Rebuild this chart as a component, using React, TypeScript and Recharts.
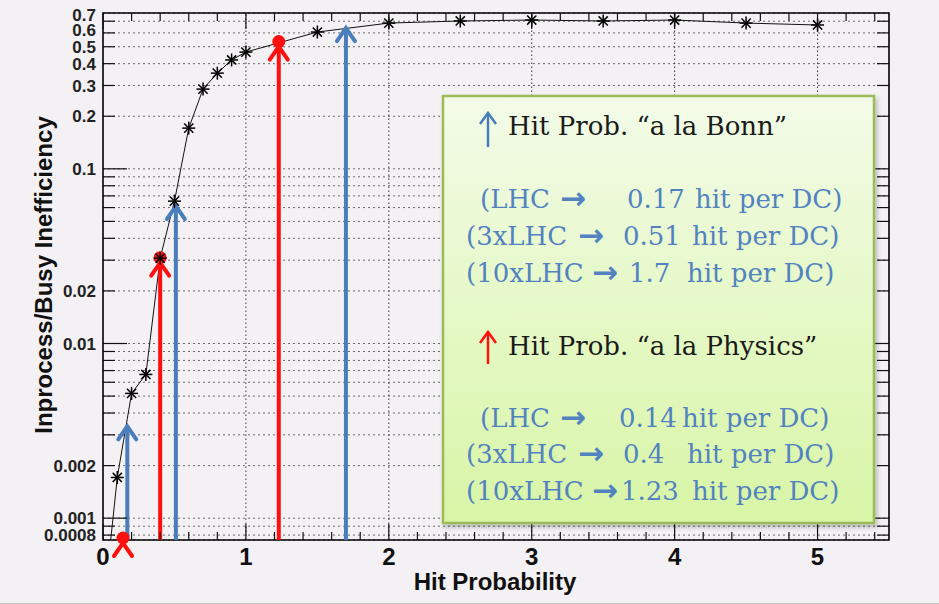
import React from "react";
import { LineChart, Line, XAxis, YAxis, CartesianGrid, ReferenceLine, ReferenceArea } from "recharts";

// measured curve (inefficiency vs hit probability per DC)
const hitProbability = [0.05, 0.1, 0.2, 0.3, 0.4, 0.5, 0.6, 0.7, 0.8, 0.9, 1.0, 1.5, 2.0, 2.5, 3.0, 3.5, 4.0, 4.5, 5.0];
const inefficiency = [0.0007, 0.00171, 0.00518, 0.00665, 0.0308, 0.0653, 0.171, 0.286, 0.353, 0.42, 0.466, 0.607, 0.683, 0.702, 0.711, 0.702, 0.711, 0.683, 0.666];

// arrows: "a la Bonn" (blue) and "a la Physics" (red)
const machines = ["LHC", "3xLHC", "10xLHC"];
const bonnProb = [0.17, 0.51, 1.7];
const bonnTip = [0.0034, 0.062, 0.648];
const physicsProb = [0.14, 0.4, 1.23];
const physicsTip = [0.00077, 0.031, 0.535];

const xTicks = [0, 0.2, 0.4, 0.6, 0.8, 1, 1.2, 1.4, 1.6, 1.8, 2, 2.2, 2.4, 2.6, 2.8, 3, 3.2, 3.4, 3.6, 3.8, 4, 4.2, 4.4, 4.6, 4.8, 5, 5.2, 5.4];
const yTicks = [
  0.0008, 0.0009, 0.001, 0.002, 0.003, 0.004, 0.005, 0.006, 0.007, 0.008, 0.009,
  0.01, 0.02, 0.03, 0.04, 0.05, 0.06, 0.07, 0.08, 0.09,
  0.1, 0.2, 0.3, 0.4, 0.5, 0.6, 0.7,
];
const yLabels = [0.0008, 0.001, 0.002, 0.01, 0.02, 0.1, 0.2, 0.3, 0.4, 0.5, 0.6, 0.7];
const yDecades = [0.001, 0.01, 0.1];
const X_DOMAIN: [number, number] = [0, 5.5];
const Y_DOMAIN: [number, number] = [0.00075, 0.78];

const W = 939;
const H = 604;
const PLOT_LEFT = 103;
const PLOT_RIGHT = 889;
const PLOT_TOP = 13;
const PLOT_BOTTOM = 540;

const BG = "#f4f1f4";
const BLUE = "#4a7ebb";
const RED = "#ff1010";
const TEXT_BLUE = "#5283c0";
const SANS = "'Liberation Sans', Arial, sans-serif";
const SERIF = "'DejaVu Serif', serif";

const data = hitProbability.map((x, i) => ({ x, y: inefficiency[i] }));

// the crowded top labels sit a little higher than their ticks, as in ROOT
const labelShift = (v: number) => (v === 0.7 ? -6 : v === 0.6 ? -3 : 0);

const YTick = (props: any) => {
  const { y, payload } = props;
  const v = payload.value;
  const len = yDecades.includes(v) ? 24 : 12;
  return (
    <g>
      <line x1={PLOT_LEFT} x2={PLOT_LEFT + len} y1={y} y2={y} stroke="#111" strokeWidth={1.2} />
      <line x1={PLOT_RIGHT} x2={PLOT_RIGHT - len} y1={y} y2={y} stroke="#111" strokeWidth={1.2} />
      {yLabels.includes(v) && (
        <text x={PLOT_LEFT - 7} y={y + labelShift(v)} dy="0.36em" textAnchor="end" fontFamily={SANS} fontWeight={700} fontSize={17} fill="#222">
          {String(v)}
        </text>
      )}
    </g>
  );
};

const XTick = (props: any) => {
  const { x, payload } = props;
  const v = payload.value;
  const major = Number.isInteger(v);
  const len = major ? 16 : 8;
  return (
    <g>
      <line x1={x} x2={x} y1={PLOT_BOTTOM} y2={PLOT_BOTTOM - len} stroke="#111" strokeWidth={1.2} />
      <line x1={x} x2={x} y1={PLOT_TOP} y2={PLOT_TOP + len} stroke="#111" strokeWidth={1.2} />
      {major && (
        <text x={x} y={565} textAnchor="middle" fontFamily={SANS} fontWeight={700} fontSize={24} fill="#111">
          {String(v)}
        </text>
      )}
    </g>
  );
};

const StarDot = (props: any) => {
  const { cx, cy, index } = props;
  if (index === 0 || cx == null || cy == null) return <g key={`s${index}`} />;
  const r = 6.5;
  const d = 4.6;
  return (
    <g key={`s${index}`} stroke="#000" strokeWidth={1.5}>
      <line x1={cx - r} x2={cx + r} y1={cy} y2={cy} />
      <line x1={cx} x2={cx} y1={cy - r} y2={cy + r} />
      <line x1={cx - d} x2={cx + d} y1={cy - d} y2={cy + d} />
      <line x1={cx - d} x2={cx + d} y1={cy + d} y2={cy - d} />
    </g>
  );
};

const blueArrow = (props: any) => {
  const { x1, y1, x2, y2 } = props;
  return (
    <g stroke={BLUE} strokeWidth={4} fill="none">
      <line x1={x1} y1={y1} x2={x2} y2={y2 + 2} />
      <path d={`M${x2 - 9},${y2 + 14} L${x2},${y2 + 1} L${x2 + 9},${y2 + 14}`} strokeLinecap="round" />
    </g>
  );
};

const redArrow = (props: any) => {
  const { x1, y1, x2, y2 } = props;
  return (
    <g stroke={RED} strokeWidth={4} fill="none">
      {y1 - y2 > 10 && <line x1={x1} y1={y1} x2={x2} y2={y2 + 6} />}
      <path d={`M${x2 - 9},${y2 + 18} L${x2},${y2 + 5} L${x2 + 9},${y2 + 18}`} strokeLinecap="round" />
      <circle cx={x2} cy={y2} r={6.5} fill={RED} stroke="none" />
    </g>
  );
};

function Legend() {
  const bonnRows = [208, 245, 282];
  const physRows = [427, 463, 500];
  const nameX = [480, 466, 466];
  const arrowX = [560, 578, 592];
  const bonnNumX = [627, 623, 629];
  const bonnHitX = [695, 692, 687];
  const physNumX = [619, 623, 621];
  const physHitX = [682, 687, 692];
  const row = (y: number, i: number, num: string, numX: number, hitX: number) => (
    <g key={`${y}`} fontFamily={SERIF} fontSize={26} fill={TEXT_BLUE}>
      <text x={nameX[i]} y={y}>{`(${machines[i]}`}</text>
      <text x={arrowX[i]} y={y + 1} fontWeight={700} fontFamily="'DejaVu Sans', sans-serif" fontSize={31}>→</text>
      <text x={numX} y={y}>{num}</text>
      <text x={hitX} y={y}>hit per DC)</text>
    </g>
  );
  return (
    <svg width={W} height={H} style={{ position: "absolute", left: 0, top: 0, pointerEvents: "none" }}>
      <defs>
        <linearGradient id="boxFill" x1="0" y1="0" x2="0" y2="1">
          <stop offset="0" stopColor="#f3fbe8" />
          <stop offset="1" stopColor="#d8f5a6" />
        </linearGradient>
        <filter id="boxShadow" x="-5%" y="-5%" width="110%" height="110%">
          <feDropShadow dx="2" dy="3" stdDeviation="2" floodColor="#000" floodOpacity="0.25" />
        </filter>
      </defs>
      <text transform="translate(52,275) rotate(-90)" textAnchor="middle" fontFamily={SANS} fontWeight={700} fontSize={24} fill="#111">
        Inprocess/Busy Inefficiency
      </text>
      <text x={495} y={590} textAnchor="middle" fontFamily={SANS} fontWeight={700} fontSize={24} fill="#111">
        Hit Probability
      </text>
      <rect x={443} y={96} width={431} height={427} fill="url(#boxFill)" stroke="#9bbb59" strokeWidth={2.5} filter="url(#boxShadow)" />
      <g stroke={BLUE} strokeWidth={2.5} fill="none">
        <line x1={488} y1={147} x2={488} y2={114} />
        <path d="M480,124 L488,113 L496,124" />
      </g>
      <text x={508} y={135} fontFamily={SERIF} fontSize={26} fill="#1a1a1a">Hit Prob. “a la Bonn”</text>
      {bonnRows.map((y, i) => row(y, i, String(bonnProb[i]), bonnNumX[i], bonnHitX[i]))}
      <g stroke={RED} strokeWidth={2.5} fill="none">
        <line x1={488} y1={364} x2={488} y2={333} />
        <path d="M480,343 L488,332 L496,343" />
      </g>
      <text x={508} y={355} fontFamily={SERIF} fontSize={26} fill="#1a1a1a">Hit Prob. “a la Physics”</text>
      {physRows.map((y, i) => row(y, i, String(physicsProb[i]), physNumX[i], physHitX[i]))}
    </svg>
  );
}

export default function App() {
  return (
    <div style={{ position: "absolute", left: 0, top: 0, width: W, height: H, background: BG, borderBottom: "1px solid #c8c8c8", boxSizing: "border-box" }}>
      <LineChart width={W} height={H} data={data} margin={{ top: PLOT_TOP, right: W - PLOT_RIGHT, left: 0, bottom: 0 }}>
        <CartesianGrid vertical={false} stroke="#6a6a6a" strokeDasharray="2 3" />
        <XAxis
          dataKey="x"
          type="number"
          domain={X_DOMAIN}
          ticks={xTicks}
          interval={0}
          allowDataOverflow
          tick={XTick}
          tickLine={false}
          axisLine={false}
          height={H - PLOT_BOTTOM}
        />
        <YAxis
          type="number"
          scale="log"
          domain={Y_DOMAIN}
          ticks={yTicks}
          interval={0}
          allowDataOverflow
          tick={YTick}
          tickLine={false}
          axisLine={false}
          width={PLOT_LEFT}
        />
        {[1, 2, 3, 4, 5].map((v) => (
          <ReferenceLine key={v} x={v} stroke="#333" strokeDasharray="1.5 2.5" />
        ))}
        <Line
          dataKey="y"
          type="linear"
          stroke="#111"
          strokeWidth={1}
          dot={StarDot}
          activeDot={false}
          isAnimationActive={false}
        />
        {bonnProb.map((p, i) => (
          <ReferenceLine
            key={`b${i}`}
            segment={[{ x: p, y: Y_DOMAIN[0] }, { x: p, y: bonnTip[i] }]}
            ifOverflow="visible"
            shape={blueArrow}
          />
        ))}
        {physicsProb.map((p, i) => (
          <ReferenceLine
            key={`r${i}`}
            segment={[{ x: p, y: Y_DOMAIN[0] }, { x: p, y: physicsTip[i] }]}
            ifOverflow="visible"
            shape={redArrow}
          />
        ))}
        <ReferenceArea
          x1={X_DOMAIN[0]}
          x2={X_DOMAIN[1]}
          y1={Y_DOMAIN[0]}
          y2={Y_DOMAIN[1]}
          ifOverflow="visible"
          fill="none"
          stroke="#000"
          strokeWidth={1.6}
        />
      </LineChart>
      <Legend />
    </div>
  );
}
